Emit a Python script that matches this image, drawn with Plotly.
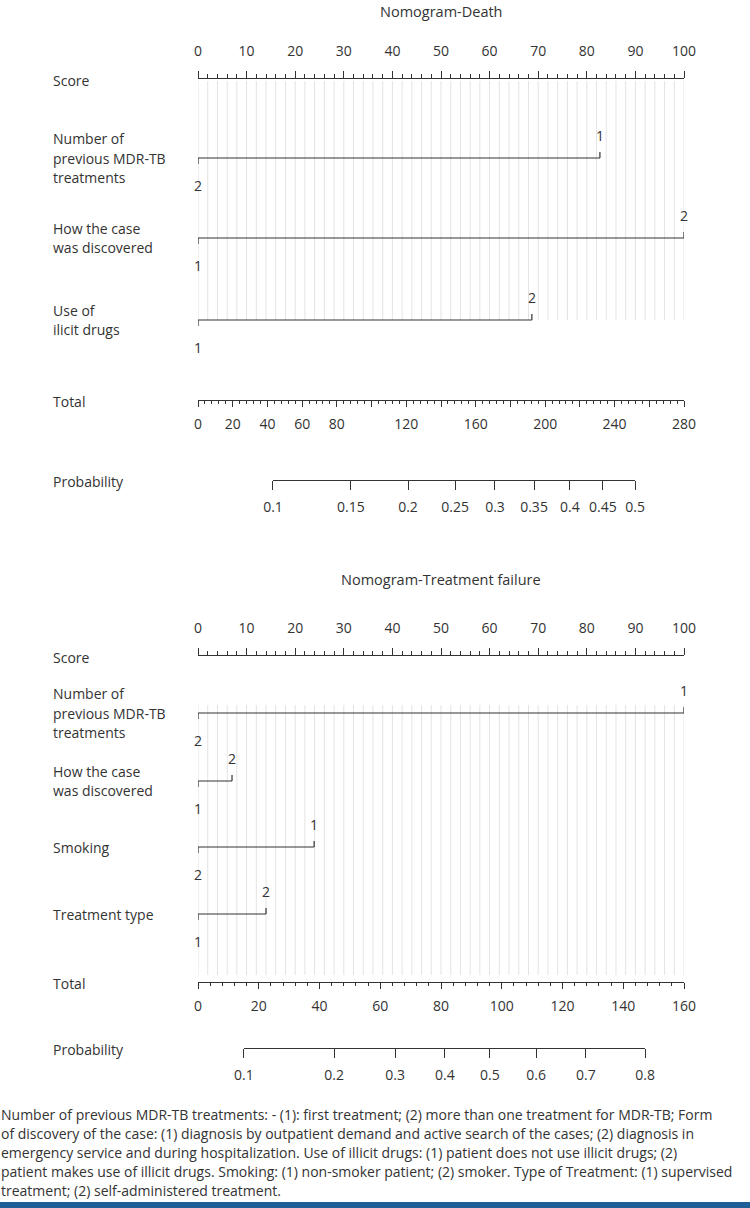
import plotly.graph_objects as go

# ------------------------------------------------------------------ data
death_title = "Nomogram-Death"
death_vars = [["Number of", "previous MDR-TB", "treatments"],
              ["How the case", "was discovered"],
              ["Use of", "ilicit drugs"]]
death_levels = [["1", "2"], ["1", "2"], ["1", "2"]]
death_points = [[82.7, 0.0], [0.0, 100.0], [0.0, 68.7]]
death_total_ticks = [0, 20, 40, 60, 80, 100, 120, 140, 160, 180, 200, 220, 240, 260, 280]
death_total_text = ["0", "20", "40", "60", "80", "", "120", "", "160", "", "200", "", "240", "", "280"]
death_prob_text = ["0.1", "0.15", "0.2", "0.25", "0.3", "0.35", "0.4", "0.45", "0.5"]
death_prob_total = [43.2, 88.1, 121.0, 148.1, 171.1, 193.6, 214.3, 233.3, 251.8]

fail_title = "Nomogram-Treatment failure"
fail_vars = [["Number of", "previous MDR-TB", "treatments"],
             ["How the case", "was discovered"],
             ["Smoking"],
             ["Treatment type"]]
fail_levels = [["1", "2"], ["1", "2"], ["1", "2"], ["1", "2"]]
fail_points = [[100.0, 0.0], [0.0, 7.0], [23.9, 0.0], [0.0, 14.0]]
fail_total_ticks = [0, 20, 40, 60, 80, 100, 120, 140, 160]
fail_total_text = ["0", "20", "40", "60", "80", "100", "120", "140", "160"]
fail_prob_text = ["0.1", "0.2", "0.3", "0.4", "0.5", "0.6", "0.7", "0.8"]
fail_prob_total = [15.1, 44.8, 64.9, 81.3, 96.1, 111.3, 127.7, 147.2]

score_ticks = [0, 10, 20, 30, 40, 50, 60, 70, 80, 90, 100]
score_minor = 2

caption = [
    "Number of previous MDR-TB treatments: - (1): first treatment; (2) more than one treatment for MDR-TB; Form",
    "of discovery of the case: (1) diagnosis by outpatient demand and active search of the cases; (2) diagnosis in",
    "emergency service and during hospitalization. Use of illicit drugs: (1) patient does not use illicit drugs; (2)",
    "patient makes use of illicit drugs. Smoking: (1) non-smoker patient; (2) smoker. Type of Treatment: (1) supervised",
    "treatment; (2) self-administered treatment.",
]

# ------------------------------------------------------------------ layout constants (pixels)
W, H = 750, 1208
PX0, PX1 = 198, 684
DOM = [PX0 / W, PX1 / W]
FONT = "Open Sans, DejaVu Sans, sans-serif"
INK = "#333333"
GRID = "#e3e3e3"
LABEL_X = 51 / W

panels = [
    dict(title=death_title, title_y=11, score_y=78, var_y=[158, 238, 320],
         grid=(81, 320), total_y=400, prob_y=480,
         vars=death_vars, levels=death_levels, points=death_points,
         tticks=death_total_ticks, ttext=death_total_text, tminor=4,
         ptext=death_prob_text, ptotal=death_prob_total),
    dict(title=fail_title, title_y=579, score_y=655, var_y=[713, 781, 847, 914],
         grid=(705, 975), total_y=982, prob_y=1048,
         vars=fail_vars, levels=fail_levels, points=fail_points,
         tticks=fail_total_ticks, ttext=fail_total_text, tminor=4,
         ptext=fail_prob_text, ptotal=fail_prob_total),
]


def pos(ypix):
    return 1 - ypix / H


fig = go.Figure()
annotations = []
layout_axes = {}
axis_n = 1


def ann(text, x, y, xanchor="center", size=14, xref="paper"):
    annotations.append(dict(text=text, x=x, y=y, xref=xref, yref="y", xanchor=xanchor,
                            yanchor="middle", showarrow=False,
                            font=dict(family=FONT, size=size, color=INK)))


def anchor_trace(xname, lo, hi, ypix):
    # invisible trace so that the axis belongs to a subplot and is drawn
    fig.add_trace(go.Scatter(x=[lo, hi], y=[ypix, ypix], xaxis=xname, yaxis="y", mode="lines",
                             line=dict(color="rgba(0,0,0,0)", width=0), hoverinfo="skip",
                             showlegend=False))


base_axis = dict(domain=DOM, anchor="free", showgrid=False, zeroline=False, showline=True,
                 automargin=False,
                 linecolor=INK, linewidth=1.1, ticks="outside", tickcolor=INK, tickwidth=1,
                 tickfont=dict(family=FONT, size=14, color=INK), fixedrange=True)

for p in panels:
    # score axis
    sx = "x" if axis_n == 1 else f"x{axis_n}"
    sname = "xaxis" if axis_n == 1 else f"xaxis{axis_n}"
    a = dict(base_axis, range=[0, 100], side="top", position=pos(p["score_y"]),
             tickmode="array", tickvals=score_ticks, ticklen=7, ticklabelstandoff=9,
             minor=dict(dtick=score_minor, tick0=0, ticklen=4, ticks="outside", tickcolor=INK))
    if axis_n != 1:
        a["overlaying"] = "x"
    layout_axes[sname] = a
    axis_n += 1

    # total axis
    tx, tname = f"x{axis_n}", f"xaxis{axis_n}"
    tmax = p["tticks"][-1]
    layout_axes[tname] = dict(base_axis, range=[0, tmax], side="bottom", overlaying="x",
                              position=pos(p["total_y"]), tickmode="array",
                              tickvals=p["tticks"], ticktext=p["ttext"], ticklen=6,
                              ticklabelstandoff=5,
                              minor=dict(dtick=p["tminor"], tick0=0, ticklen=3,
                                         ticks="outside", tickcolor=INK))
    anchor_trace(tx, 0, tmax, p["total_y"])
    axis_n += 1

    # probability axis (spans only its tick range, placed on the total scale)
    px_, pname = f"x{axis_n}", f"xaxis{axis_n}"
    t0, t1 = p["ptotal"][0], p["ptotal"][-1]
    d0 = DOM[0] + (DOM[1] - DOM[0]) * t0 / tmax
    d1 = DOM[0] + (DOM[1] - DOM[0]) * t1 / tmax
    layout_axes[pname] = dict(base_axis, domain=[d0, d1], range=[t0, t1], side="bottom",
                              position=pos(p["prob_y"]), tickmode="array",
                              tickvals=p["ptotal"], ticktext=p["ptext"], ticklen=9,
                              ticklabelstandoff=5)
    anchor_trace(px_, t0, t1, p["prob_y"])
    axis_n += 1

    # grid lines on score scale
    gx, gy = [], []
    for g in range(0, 101, score_minor):
        gx += [g, g, None]
        gy += [p["grid"][0], p["grid"][1], None]
    fig.add_trace(go.Scatter(x=gx, y=gy, xaxis=sx, yaxis="y", mode="lines",
                             line=dict(color=GRID, width=1), hoverinfo="skip", showlegend=False))

    # variable lines
    for vy, names, levs, pts in zip(p["var_y"], p["vars"], p["levels"], p["points"]):
        order = sorted(range(len(pts)), key=lambda i: pts[i])
        xs = [pts[order[0]], pts[order[-1]]]
        lx, ly = [xs[0], xs[1], None], [vy, vy, None]
        for k, i in enumerate(order):
            up = (k % 2 == 1)
            lx += [pts[i], pts[i], None]
            ly += [vy, vy - 6 if up else vy + 6, None]
            annotations.append(dict(text=levs[i], x=pts[i], y=vy - 23 if up else vy + 27,
                                    xref=sx, yref="y", showarrow=False, xanchor="center",
                                    yanchor="middle",
                                    font=dict(family=FONT, size=14, color=INK)))
        fig.add_trace(go.Scatter(x=lx, y=ly, xaxis=sx, yaxis="y", mode="lines",
                                 line=dict(color=INK, width=1.2), hoverinfo="skip",
                                 showlegend=False))
        n = len(names)
        for j, nm in enumerate(names):
            ann(nm, LABEL_X, vy + (j - (n - 1) / 2) * 19.5, xanchor="left")

    ann("Score", LABEL_X, p["score_y"] + 2, xanchor="left")
    ann("Total", LABEL_X, p["total_y"] + 1, xanchor="left")
    ann("Probability", LABEL_X, p["prob_y"] + 1, xanchor="left")
    ann(p["title"], (DOM[0] + DOM[1]) / 2, p["title_y"], size=14.5)

for j, line in enumerate(caption):
    ann(line, -0.002, 1114 + j * 19.2, xanchor="left", size=14)

fig.update_layout(
    width=W, height=H, autosize=False, margin=dict(l=0, r=0, t=0, b=0, pad=0),
    paper_bgcolor="white", plot_bgcolor="rgba(0,0,0,0)", showlegend=False,
    yaxis=dict(domain=[0, 1], range=[H, 0], visible=False, fixedrange=True, automargin=False),
    annotations=annotations,
    shapes=[dict(type="rect", xref="paper", yref="y", x0=0, x1=1, y0=1202, y1=1208,
                 fillcolor="#1f5e96", line=dict(width=0), layer="above")],
    **layout_axes,
)

fig.write_html("out.html", config={"responsive": False, "displayModeBar": False},
               post_script="document.body.style.margin='0';document.body.style.overflow='hidden';")
